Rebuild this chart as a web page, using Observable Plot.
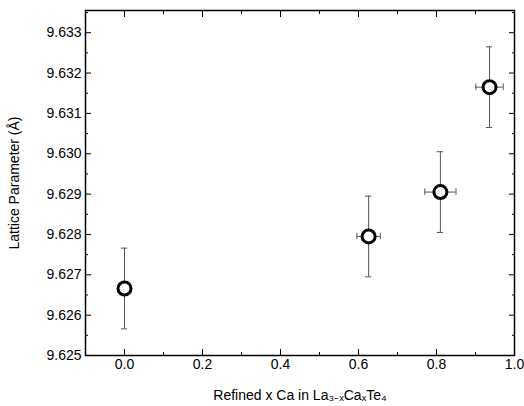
<!DOCTYPE html>
<html><head>
<script src="https://cdn.jsdelivr.net/npm/d3@7"></script>
<script src="https://cdn.jsdelivr.net/npm/@observablehq/plot@0.6"></script>
<style>body{margin:0;background:#fff}</style>
</head><body><div id="chart"></div>
<script>
const xs = [0, 0.626, 0.81, 0.936];
const ys = [9.62666, 9.62795, 9.62905, 9.63165];
const yerr = [0.001, 0.001, 0.001, 0.001];
const xerr = [0, 0.03, 0.04, 0.035];
const xTicks = [0, 0.2, 0.4, 0.6, 0.8, 1.0];
const xMinor = [-0.1, 0.1, 0.3, 0.5, 0.7, 0.9];
const yTicks = [9.625, 9.626, 9.627, 9.628, 9.629, 9.630, 9.631, 9.632, 9.633];
const yMinor = [9.6255, 9.6265, 9.6275, 9.6285, 9.6295, 9.6305, 9.6315, 9.6325, 9.6335];

const data = xs.map((x, i) => ({x, y: ys[i], ye: yerr[i], xe: xerr[i]}));
const capX = 0.008, capY = 0.00008;
const bar = {stroke: "#555", strokeWidth: 1};
const font = "Arial, 'Liberation Sans', sans-serif";
const none = () => "";

const chart = Plot.plot({
  width: 524, height: 406,
  marginLeft: 85, marginRight: 10, marginTop: 10, marginBottom: 51,
  style: {fontFamily: font, fontSize: "14px", color: "#000"},
  x: {domain: [-0.1, 1.0]},
  y: {domain: [9.625, 9.63355]},
  marks: [
    Plot.frame({stroke: "#000", strokeWidth: 1.5}),
    Plot.axisX({ticks: xTicks, tickSize: -6, tickFormat: d3.format(".1f"), fontSize: 14, tickPadding: 10, label: "Refined x Ca in La₃₋ₓCaₓTe₄", labelAnchor: "center", labelArrow: "none", labelOffset: 44}),
    Plot.axisX({ticks: xMinor, tickSize: -3, tickFormat: none, label: null}),
    Plot.axisX({anchor: "top", ticks: xTicks, tickSize: -6, tickFormat: none, label: null}),
    Plot.axisX({anchor: "top", ticks: xMinor, tickSize: -3, tickFormat: none, label: null}),
    Plot.axisY({ticks: yTicks, tickSize: -6, tickFormat: d3.format(".3f"), fontSize: 14, tickPadding: 10, label: "Lattice Parameter (Å)", labelAnchor: "center", labelArrow: "none", labelOffset: 76}),
    Plot.axisY({ticks: yMinor, tickSize: -3, tickFormat: none, label: null}),
    Plot.axisY({anchor: "right", ticks: yTicks, tickSize: -6, tickFormat: none, label: null}),
    Plot.axisY({anchor: "right", ticks: yMinor, tickSize: -3, tickFormat: none, label: null}),
    Plot.ruleX(data, {x: "x", y1: d => d.y - d.ye, y2: d => d.y + d.ye, ...bar}),
    Plot.ruleY(data, {y: d => d.y - d.ye, x1: d => d.x - capX, x2: d => d.x + capX, ...bar}),
    Plot.ruleY(data, {y: d => d.y + d.ye, x1: d => d.x - capX, x2: d => d.x + capX, ...bar}),
    Plot.ruleY(data.filter(d => d.xe > 0), {y: "y", x1: d => d.x - d.xe, x2: d => d.x + d.xe, ...bar}),
    Plot.ruleX(data.filter(d => d.xe > 0), {x: d => d.x - d.xe, y1: d => d.y - capY, y2: d => d.y + capY, ...bar}),
    Plot.ruleX(data.filter(d => d.xe > 0), {x: d => d.x + d.xe, y1: d => d.y - capY, y2: d => d.y + capY, ...bar}),
    Plot.dot(data, {x: "x", y: "y", r: 6.5, fill: "white", stroke: "black", strokeWidth: 3})
  ]
});
document.getElementById("chart").append(chart);
</script>
</body></html>
